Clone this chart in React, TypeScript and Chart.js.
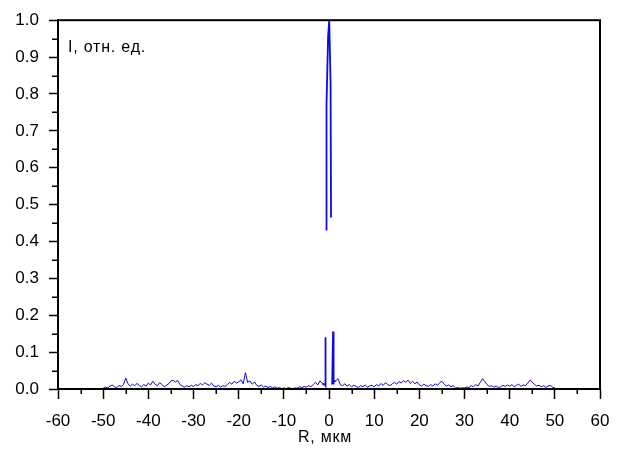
import React, { useEffect, useRef } from "react";
import { Chart, registerables } from "chart.js";

Chart.register(...registerables);

// Background noise, sampled every 0.5 µm from -50 to 50 µm (centre handled by the peak series)
const R_START = -50;
const R_STEP = 0.5;
const noiseI: (number | null)[] = [
  // -50 .. -45.5
  0.002, 0.005, 0.003, 0.008, 0.011, 0.006, 0.004, 0.009, 0.007, 0.012,
  // -45 .. -40.5
  0.030, 0.014, 0.008, 0.013, 0.009, 0.015, 0.010, 0.006, 0.012, 0.008,
  // -40 .. -35.5
  0.016, 0.011, 0.021, 0.013, 0.009, 0.017, 0.012, 0.006, 0.010, 0.014,
  // -35 .. -30.5
  0.022, 0.024, 0.019, 0.023, 0.012, 0.008, 0.005, 0.009, 0.006, 0.010,
  // -30 .. -25.5
  0.007, 0.012, 0.009, 0.015, 0.011, 0.017, 0.013, 0.010, 0.016, 0.008,
  // -25 .. -20.5
  0.006, 0.010, 0.005, 0.009, 0.007, 0.012, 0.018, 0.013, 0.021, 0.016,
  // -20 .. -15.5
  0.019, 0.025, 0.014, 0.044, 0.018, 0.022, 0.013, 0.019, 0.010, 0.007,
  // -15 .. -10.5
  0.011, 0.005, 0.008, 0.004, 0.007, 0.003, 0.006, 0.002, 0.004, 0.001,
  // -10 .. -5.5
  0.003, 0.001, 0.004, 0.002, 0.001, 0.003, 0.002, 0.006, 0.004, 0.007,
  // -5 .. -1.5
  0.005, 0.009, 0.006, 0.012, 0.018, 0.011, 0.022, 0.015,
  // -1 .. 1 (peak region)
  null, null, null, null, null,
  // 1.5 .. 4.5
  0.022, 0.028, 0.012, 0.009, 0.014, 0.008, 0.012,
  // 5 .. 9.5
  0.006, 0.010, 0.007, 0.004, 0.009, 0.006, 0.011, 0.005, 0.008, 0.010,
  // 10 .. 14.5
  0.006, 0.012, 0.008, 0.015, 0.010, 0.017, 0.012, 0.009, 0.014, 0.018,
  // 15 .. 19.5
  0.013, 0.020, 0.016, 0.023, 0.018, 0.024, 0.015, 0.021, 0.014, 0.019,
  // 20 .. 24.5
  0.011, 0.008, 0.013, 0.009, 0.007, 0.012, 0.008, 0.014, 0.010, 0.017,
  // 25 .. 29.5
  0.021, 0.013, 0.008, 0.011, 0.006, 0.009, 0.003, 0.004, 0.002, 0.003,
  // 30 .. 34.5
  0.003, 0.005, 0.004, 0.009, 0.006, 0.012, 0.008, 0.018, 0.028, 0.020,
  // 35 .. 39.5
  0.012, 0.007, 0.009, 0.005, 0.008, 0.004, 0.006, 0.010, 0.007, 0.011,
  // 40 .. 44.5
  0.008, 0.012, 0.006, 0.010, 0.013, 0.007, 0.011, 0.009, 0.016, 0.024,
  // 45 .. 50
  0.019, 0.012, 0.008, 0.010, 0.006, 0.009, 0.004, 0.008, 0.010, 0.005, 0.003,
];

// Central peak
const peakR = [-1.5, -1.0, -0.85, -0.82, -0.79, -0.7, -0.6, -0.55, -0.55, -0.2, 0.05, 0.35, 0.45, 0.55, 0.7, 0.87, 0.9, 0.93, 1.1, 1.5];
const peakI: (number | null)[] = [0.015, 0.012, 0.012, 0.14, 0.012, 0.01, null, 0.43, 0.77, 0.955, 1.0, 0.83, 0.465, null, 0.012, 0.012, 0.156, 0.012, 0.02, 0.022];

const X_MIN = -60;
const X_MAX = 60;
const X_STEP = 10;
const Y_MIN = 0;
const Y_MAX = 1;
const Y_STEP = 0.1;

const Y_TITLE = "I, отн. ед.";
const X_TITLE = "R, мкм";

const FONT = '"Liberation Sans", Arial, sans-serif';
const LINE_COLOR = "#0a0ae6";

const framePlugin = {
  id: "frameAndTexts",
  afterDraw(chart: any) {
    const { ctx, chartArea } = chart;
    const xs = chart.scales.x;
    const ys = chart.scales.y;
    ctx.save();
    // frame
    ctx.strokeStyle = "#000";
    ctx.lineWidth = 2;
    ctx.strokeRect(chartArea.left, chartArea.top, chartArea.right - chartArea.left, chartArea.bottom - chartArea.top);
    // minor ticks
    ctx.lineWidth = 1.5;
    ctx.beginPath();
    for (let v = X_MIN + X_STEP / 2; v < X_MAX; v += X_STEP) {
      const px = Math.round(xs.getPixelForValue(v)) + 0.25;
      ctx.moveTo(px, chartArea.bottom);
      ctx.lineTo(px, chartArea.bottom + 5);
    }
    for (let v = Y_MIN + Y_STEP / 2; v < Y_MAX; v += Y_STEP) {
      const py = Math.round(ys.getPixelForValue(v)) + 0.25;
      ctx.moveTo(chartArea.left - 6, py);
      ctx.lineTo(chartArea.left, py);
    }
    ctx.stroke();
    // texts
    ctx.fillStyle = "#000";
    ctx.textBaseline = "middle";
    ctx.textAlign = "left";
    ctx.font = `16px ${FONT}`;
    (ctx as any).letterSpacing = "0.8px";
    ctx.fillText(Y_TITLE, chartArea.left + 10, chartArea.top + 27);
    ctx.textAlign = "center";
    ctx.font = `16px ${FONT}`;
    ctx.fillText(X_TITLE, xs.getPixelForValue(0) - 4, chartArea.bottom + 49);
    ctx.restore();
  },
};

export default function App() {
  const canvasRef = useRef<HTMLCanvasElement | null>(null);

  useEffect(() => {
    if (!canvasRef.current) return;
    const noiseData = noiseI.map((v, i) => ({ x: R_START + i * R_STEP, y: v }));
    const peakData = peakR.map((r, i) => ({ x: r, y: peakI[i] }));

    const chart = new Chart(canvasRef.current, {
      type: "line",
      data: {
        datasets: [
          {
            data: noiseData as any,
            borderColor: LINE_COLOR,
            borderWidth: 1,
            pointRadius: 0,
            tension: 0,
            spanGaps: false,
          },
          {
            data: peakData as any,
            borderColor: LINE_COLOR,
            borderWidth: 1.8,
            pointRadius: 0,
            tension: 0,
            spanGaps: false,
          },
        ],
      },
      options: {
        animation: false,
        responsive: false,
        maintainAspectRatio: false,
        layout: { padding: { top: 17, right: 25, left: 0, bottom: 0 } },
        plugins: {
          legend: { display: false },
          tooltip: { enabled: false },
          title: { display: false },
        },
        scales: {
          x: {
            type: "linear",
            min: X_MIN,
            max: X_MAX,
            afterFit: (s: any) => {
              s.height = 65;
            },
            ticks: {
              stepSize: X_STEP,
              color: "#000",
              font: { family: FONT, size: 17 },
              padding: 12,
              maxRotation: 0,
              callback: (v: any) => String(v),
            },
            grid: {
              drawOnChartArea: false,
              tickLength: 10,
              tickColor: "#000",
              tickWidth: 1.5,
            },
            border: { display: true, color: "#000", width: 2 },
          },
          y: {
            type: "linear",
            min: Y_MIN,
            max: Y_MAX,
            afterFit: (s: any) => {
              s.width = 58;
            },
            ticks: {
              stepSize: Y_STEP,
              color: "#000",
              font: { family: FONT, size: 17 },
              padding: 10,
              callback: (v: any) => Number(v).toFixed(1),
            },
            grid: {
              drawOnChartArea: false,
              tickLength: 9,
              tickColor: "#000",
              tickWidth: 1.5,
            },
            border: { display: true, color: "#000", width: 2 },
          },
        },
      },
      plugins: [framePlugin],
    });
    return () => chart.destroy();
  }, []);

  return (
    <div style={{ position: "fixed", left: 0, top: 0, width: 625, height: 454, background: "#fff" }}>
      <canvas ref={canvasRef} width={625} height={454} style={{ display: "block" }} />
    </div>
  );
}
